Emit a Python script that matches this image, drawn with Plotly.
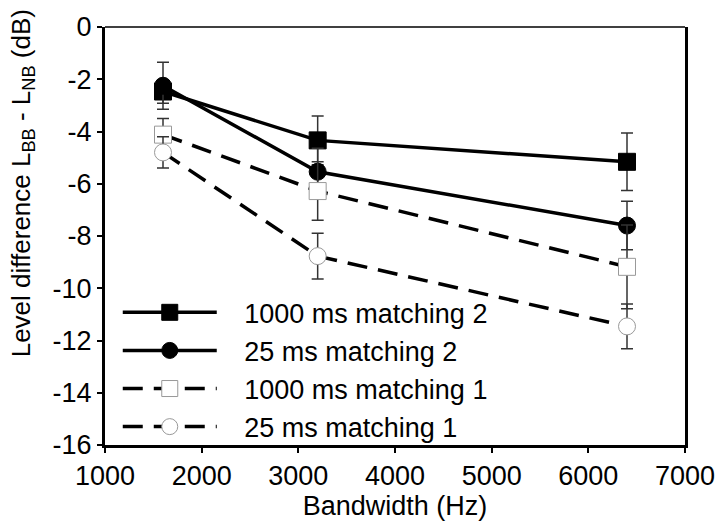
import plotly.graph_objects as go

bandwidth = [1600, 3200, 6400]

names = ["1000 ms matching 2", "25 ms matching 2", "1000 ms matching 1", "25 ms matching 1"]
long_m2 = [-2.47, -4.34, -5.16]
long_m2_err = [0.45, 0.93, 1.1]
short_m2 = [-2.25, -5.54, -7.6]
short_m2_err = [0.9, 0.9, 0.93]
long_m1 = [-4.12, -6.28, -9.18]
long_m1_err = [0.62, 1.12, 1.6]
short_m1 = [-4.8, -8.77, -11.46]
short_m1_err = [0.6, 0.88, 0.86]

x_ticks = [1000, 2000, 3000, 4000, 5000, 6000, 7000]
y_ticks = [0, -2, -4, -6, -8, -10, -12, -14, -16]

series = [
    (names[0], long_m2, long_m2_err, "solid", "square", "black", "black"),
    (names[1], short_m2, short_m2_err, "solid", "circle", "black", "black"),
    (names[2], long_m1, long_m1_err, "20px,11px", "square", "white", "#999999"),
    (names[3], short_m1, short_m1_err, "20px,11px", "circle", "white", "#999999"),
]

fig = go.Figure()
for name, yv, ev, dash, sym, fill, edge in series:
    fig.add_trace(go.Scatter(
        x=bandwidth, y=yv, name="\u00a0\u00a0\u00a0" + name, mode="lines+markers",
        line=dict(color="black", width=3.5, dash=dash),
        marker=dict(symbol=sym, size=17, color=fill,
                    line=dict(color=edge, width=1)),
        error_y=dict(type="data", array=ev, visible=True,
                     color="#333333", thickness=1.5, width=6),
    ))

font = "Liberation Sans, Arial, sans-serif"
fig.update_layout(
    width=727, height=528,
    margin=dict(l=105, r=34, t=19, b=82),
    paper_bgcolor="white", plot_bgcolor="white",
    font=dict(family=font, size=27, color="black"),
    showlegend=True,
    legend=dict(x=0.022, y=-0.015, xanchor="left", yanchor="bottom",
                bgcolor="rgba(0,0,0,0)", borderwidth=0,
                itemwidth=94, font=dict(size=27), tracegroupgap=0),
    xaxis=dict(range=[1000, 7000], tickvals=x_ticks,
               ticktext=[str(v) for v in x_ticks],
               showgrid=False, zeroline=False,
               showline=True, linecolor="black", linewidth=3,
               ticks="outside", ticklen=5, tickwidth=1.5, tickcolor="black",
               title=dict(text="Bandwidth (Hz)", standoff=6,
                          font=dict(size=27))),
    yaxis=dict(range=[-16, 0], tickvals=y_ticks,
               ticktext=[str(v) for v in y_ticks],
               showgrid=False, zeroline=False,
               showline=True, linecolor="black", linewidth=3, mirror=True,
               ticks="outside", ticklen=5, tickwidth=1.5, tickcolor="black"),
    shapes=[dict(type="line", xref="paper", yref="paper", x0=0, x1=1,
                 y0=1, y1=1, line=dict(color="black", width=1.5))],
    annotations=[dict(text="Level difference L<sub>BB</sub> - L<sub>NB</sub> (dB)",
                      xref="paper", yref="paper", x=-0.174, y=0.625,
                      textangle=-90, showarrow=False,
                      font=dict(size=26, family=font))],
)

fig.write_html("out.html")
